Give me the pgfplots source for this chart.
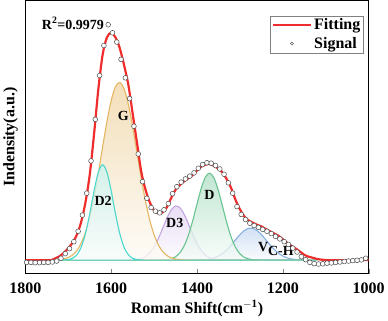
\documentclass[border=0pt]{standalone}
\usepackage{fontspec}
\setmainfont{Liberation Serif}
\usepackage{pgfplots}
\pgfplotsset{compat=1.18}

\definecolor{fitred}{RGB}{240,45,45}
\definecolor{dtwo}{RGB}{75,215,205}
\definecolor{gcol}{RGB}{228,182,98}
\definecolor{dthree}{RGB}{195,165,225}
\definecolor{dcol}{RGB}{105,195,145}
\definecolor{vcol}{RGB}{135,175,225}

\pgfplotsset{
  fitleg/.style={legend image code/.code={\draw[##1] (0cm,0cm) -- (1.35cm,0cm);}},
  sigleg/.style={legend image code/.code={\path[draw=none] (0cm,0cm) -- (1.35cm,0cm);
    \draw[##1, mark size=1.5pt] plot coordinates {(0.675cm,0cm)};}},
}

\begin{document}
\begin{tikzpicture}
\begin{axis}[
  scale only axis,
  width=344pt, height=274pt,
  x dir=reverse,
  xmin=1000, xmax=1800,
  ymin=-0.06, ymax=1.125,
  xtick={1000,1200,1400,1600,1800},
  ytick=\empty,
  xtick pos=bottom,
  tick align=inside,
  major tick length=5pt,
  axis line style={line width=1pt},
  /pgf/number format/1000 sep={},
  /pgf/number format/assume math mode=true,
  tick label style={font=\fontsize{16}{16}\selectfont\bfseries},
  xticklabel style={yshift=-5pt},
  xlabel={Roman Shift(cm$^{\mathbf{-1}}$)},
  ylabel={Indensity(a.u.)},
  label style={font=\fontsize{16}{16}\selectfont\bfseries},
  xlabel style={yshift=0pt},
  ylabel style={yshift=4pt},
  legend style={at={(0.985,0.945)}, anchor=north east, draw=gray,
    font=\fontsize{16}{18}\selectfont\bfseries, inner sep=1pt,
    row sep=2pt, cells={anchor=west}},
]

% V C-H
\addplot[forget plot, smooth, draw=vcol, line width=1.1pt,
  top color=vcol!50!white, bottom color=vcol!6!white, fill opacity=0.75] coordinates {
(1720,0)(1650,0)(1580,0)(1500,0)(1430,0)(1410,0.0002)(1400,0.0005)(1390,0.0011)
(1380,0.0025)(1370,0.0051)(1360,0.0099)(1350,0.0178)(1340,0.0297)(1330,0.0460)
(1320,0.0663)(1310,0.0889)(1300,0.1106)(1290,0.128)(1280,0.1377)(1270,0.1377)
(1260,0.128)(1250,0.1106)(1240,0.0889)(1230,0.0663)(1220,0.0460)(1210,0.0297)
(1200,0.0178)(1190,0.0099)(1180,0.0051)(1170,0.0025)(1160,0.0011)(1150,0.0005)
(1140,0.0002)(1120,0)} \closedcycle;

% D3
\addplot[forget plot, smooth, draw=dthree, line width=1.1pt,
  top color=dthree!50!white, bottom color=dthree!5!white, fill opacity=0.75] coordinates {
(1720,0)(1650,0)(1580,0)(1560,0.0003)(1550,0.0010)(1540,0.0029)(1530,0.0071)
(1520,0.0158)(1510,0.0318)(1500,0.0576)(1490,0.0939)(1480,0.138)(1470,0.1827)
(1460,0.218)(1450,0.2345)(1440,0.2273)(1430,0.1986)(1420,0.1563)(1410,0.1109)
(1400,0.0709)(1390,0.0408)(1380,0.0212)(1370,0.0099)(1360,0.0042)(1350,0.0016)
(1340,0.0005)(1330,0.0002)(1310,0)(1250,0)(1180,0)(1120,0)} \closedcycle;

% D
\addplot[forget plot, smooth, draw=dcol, line width=1.1pt,
  top color=dcol!55!white, bottom color=dcol!6!white, fill opacity=0.75] coordinates {
(1720,0)(1650,0)(1580,0)(1520,0)(1500,0.0001)(1490,0.0002)(1480,0.0008)(1470,0.0023)
(1460,0.0061)(1450,0.0147)(1440,0.0317)(1430,0.0616)(1420,0.1081)(1410,0.1709)
(1400,0.2434)(1390,0.3125)(1380,0.3614)(1370,0.3768)(1360,0.354)(1350,0.2997)
(1340,0.2287)(1330,0.1572)(1320,0.0974)(1310,0.0544)(1300,0.0274)(1290,0.0124)
(1280,0.0051)(1270,0.0019)(1260,0.0006)(1250,0.0002)(1230,0)(1180,0)(1120,0)} \closedcycle;

% G
\addplot[forget plot, smooth, draw=gcol, line width=1.1pt,
  top color=gcol!55!white, bottom color=gcol!6!white, fill opacity=0.8] coordinates {
(1720,0.0025)(1710,0.0055)(1700,0.0114)(1690,0.0225)(1680,0.0417)(1670,0.0730)
(1660,0.1204)(1650,0.1869)(1640,0.2735)(1630,0.377)(1620,0.4898)(1610,0.5996)
(1600,0.6916)(1590,0.7517)(1580,0.7698)(1570,0.7428)(1560,0.6753)(1550,0.5786)
(1540,0.467)(1530,0.3552)(1520,0.2546)(1510,0.1719)(1500,0.1094)(1490,0.0656)
(1480,0.0371)(1470,0.0197)(1460,0.0099)(1450,0.0047)(1440,0.0021)(1430,0.0009)
(1420,0.0003)(1400,0)(1300,0)(1200,0)(1120,0)} \closedcycle;

% D2
\addplot[forget plot, smooth, draw=dtwo, line width=1.1pt,
  top color=dtwo!30!white, bottom color=dtwo!4!white, fill opacity=0.75] coordinates {
(1720,0.0001)(1710,0.0006)(1700,0.0025)(1690,0.0082)(1680,0.0232)(1670,0.0559)
(1660,0.1148)(1650,0.201)(1640,0.300)(1630,0.381)(1620,0.413)(1610,0.381)
(1600,0.300)(1590,0.201)(1580,0.1148)(1570,0.0559)(1560,0.0232)(1550,0.0082)
(1540,0.0025)(1530,0.0006)(1520,0.0001)(1500,0)(1400,0)(1300,0)(1200,0)(1120,0)} \closedcycle;

% fitting
\addplot[smooth, draw=fitred, line width=2.2pt, fitleg] coordinates {
(1800,0)(1790,0)(1780,0)(1770,0)(1760,0)(1750,0)(1740,0)(1730,0.008)(1720,0.017)
(1710,0.032)(1700,0.052)(1690,0.075)(1680,0.110)(1670,0.165)(1660,0.250)(1650,0.370)
(1640,0.545)(1630,0.740)(1620,0.890)(1610,0.965)(1600,0.985)(1590,0.965)(1580,0.918)
(1570,0.845)(1560,0.759)(1550,0.635)(1540,0.510)(1530,0.384)(1520,0.305)(1510,0.250)
(1500,0.215)(1490,0.203)(1480,0.207)(1470,0.230)(1460,0.270)(1450,0.305)(1440,0.325)
(1430,0.342)(1420,0.355)(1410,0.368)(1400,0.388)(1390,0.405)(1380,0.414)(1370,0.416)
(1360,0.408)(1350,0.396)(1340,0.378)(1330,0.348)(1320,0.310)(1310,0.260)(1300,0.220)
(1290,0.190)(1280,0.172)(1270,0.162)(1260,0.153)(1250,0.146)(1240,0.135)(1230,0.125)
(1220,0.115)(1210,0.105)(1200,0.090)(1190,0.075)(1180,0.062)(1170,0.050)(1160,0.037)
(1150,0.023)(1140,0.015)(1130,0.010)(1120,0.005)(1110,0.002)(1100,0)(1090,0)(1080,0)
(1070,0)(1060,0)(1050,0)(1040,0)(1030,0)(1020,0)(1010,0)(1000,0)};
\addlegendentry{Fitting}

% signal
\addplot[only marks, mark=*, mark size=2.4pt,
  mark options={fill=white, draw=gray!60!black, line width=0.5pt}, sigleg] coordinates {
(1797,-0.010)(1787,-0.010)(1777,-0.011)(1767,-0.011)(1757,-0.010)(1747,-0.010)
(1737,-0.008)(1727,-0.004)(1717,0.008)(1707,0.028)(1697,0.050)(1687,0.080)
(1677,0.125)(1667,0.195)(1657,0.290)(1647,0.430)(1637,0.610)(1627,0.800)
(1617,0.930)(1607,1.020)(1597,0.985)(1587,0.945)(1577,0.870)(1567,0.790)
(1557,0.700)(1547,0.580)(1537,0.460)(1527,0.340)(1517,0.268)(1507,0.228)
(1497,0.212)(1487,0.205)(1477,0.218)(1467,0.245)(1457,0.288)(1447,0.318)
(1437,0.338)(1427,0.352)(1417,0.364)(1407,0.378)(1397,0.398)(1387,0.414)
(1377,0.422)(1367,0.420)(1357,0.410)(1347,0.395)(1337,0.372)(1327,0.335)
(1317,0.290)(1307,0.232)(1297,0.198)(1287,0.176)(1277,0.160)(1267,0.150)
(1257,0.142)(1247,0.133)(1237,0.125)(1227,0.115)(1217,0.103)(1207,0.092)
(1197,0.080)(1187,0.068)(1177,0.052)(1167,0.035)(1157,0.015)(1147,0.002)
(1137,-0.010)(1127,-0.015)(1117,-0.017)(1107,-0.016)(1097,-0.013)(1087,-0.012)
(1077,-0.010)(1067,-0.008)(1057,-0.006)(1047,-0.004)(1037,-0.002)(1027,-0.001)
(1017,0.001)(1007,0.008)};
\addlegendentry{Signal}

\node[anchor=east, font=\fontsize{14}{14}\selectfont\bfseries] at (axis cs:1609,1.026) {R$^{\mathbf{2}}$=0.9979};
\node[font=\fontsize{14}{14}\selectfont\bfseries] at (axis cs:1572,0.623) {G};
\node[font=\fontsize{14}{14}\selectfont\bfseries] at (axis cs:1619,0.257) {D2};
\node[font=\fontsize{14}{14}\selectfont\bfseries] at (axis cs:1452,0.160) {D3};
\node[font=\fontsize{14}{14}\selectfont\bfseries] at (axis cs:1371,0.283) {D};
\node[anchor=west, font=\fontsize{14}{14}\selectfont\bfseries] at (axis cs:1266,0.048) {V\raisebox{-0.35em}{C-H}};
\end{axis}
\end{tikzpicture}
\end{document}
